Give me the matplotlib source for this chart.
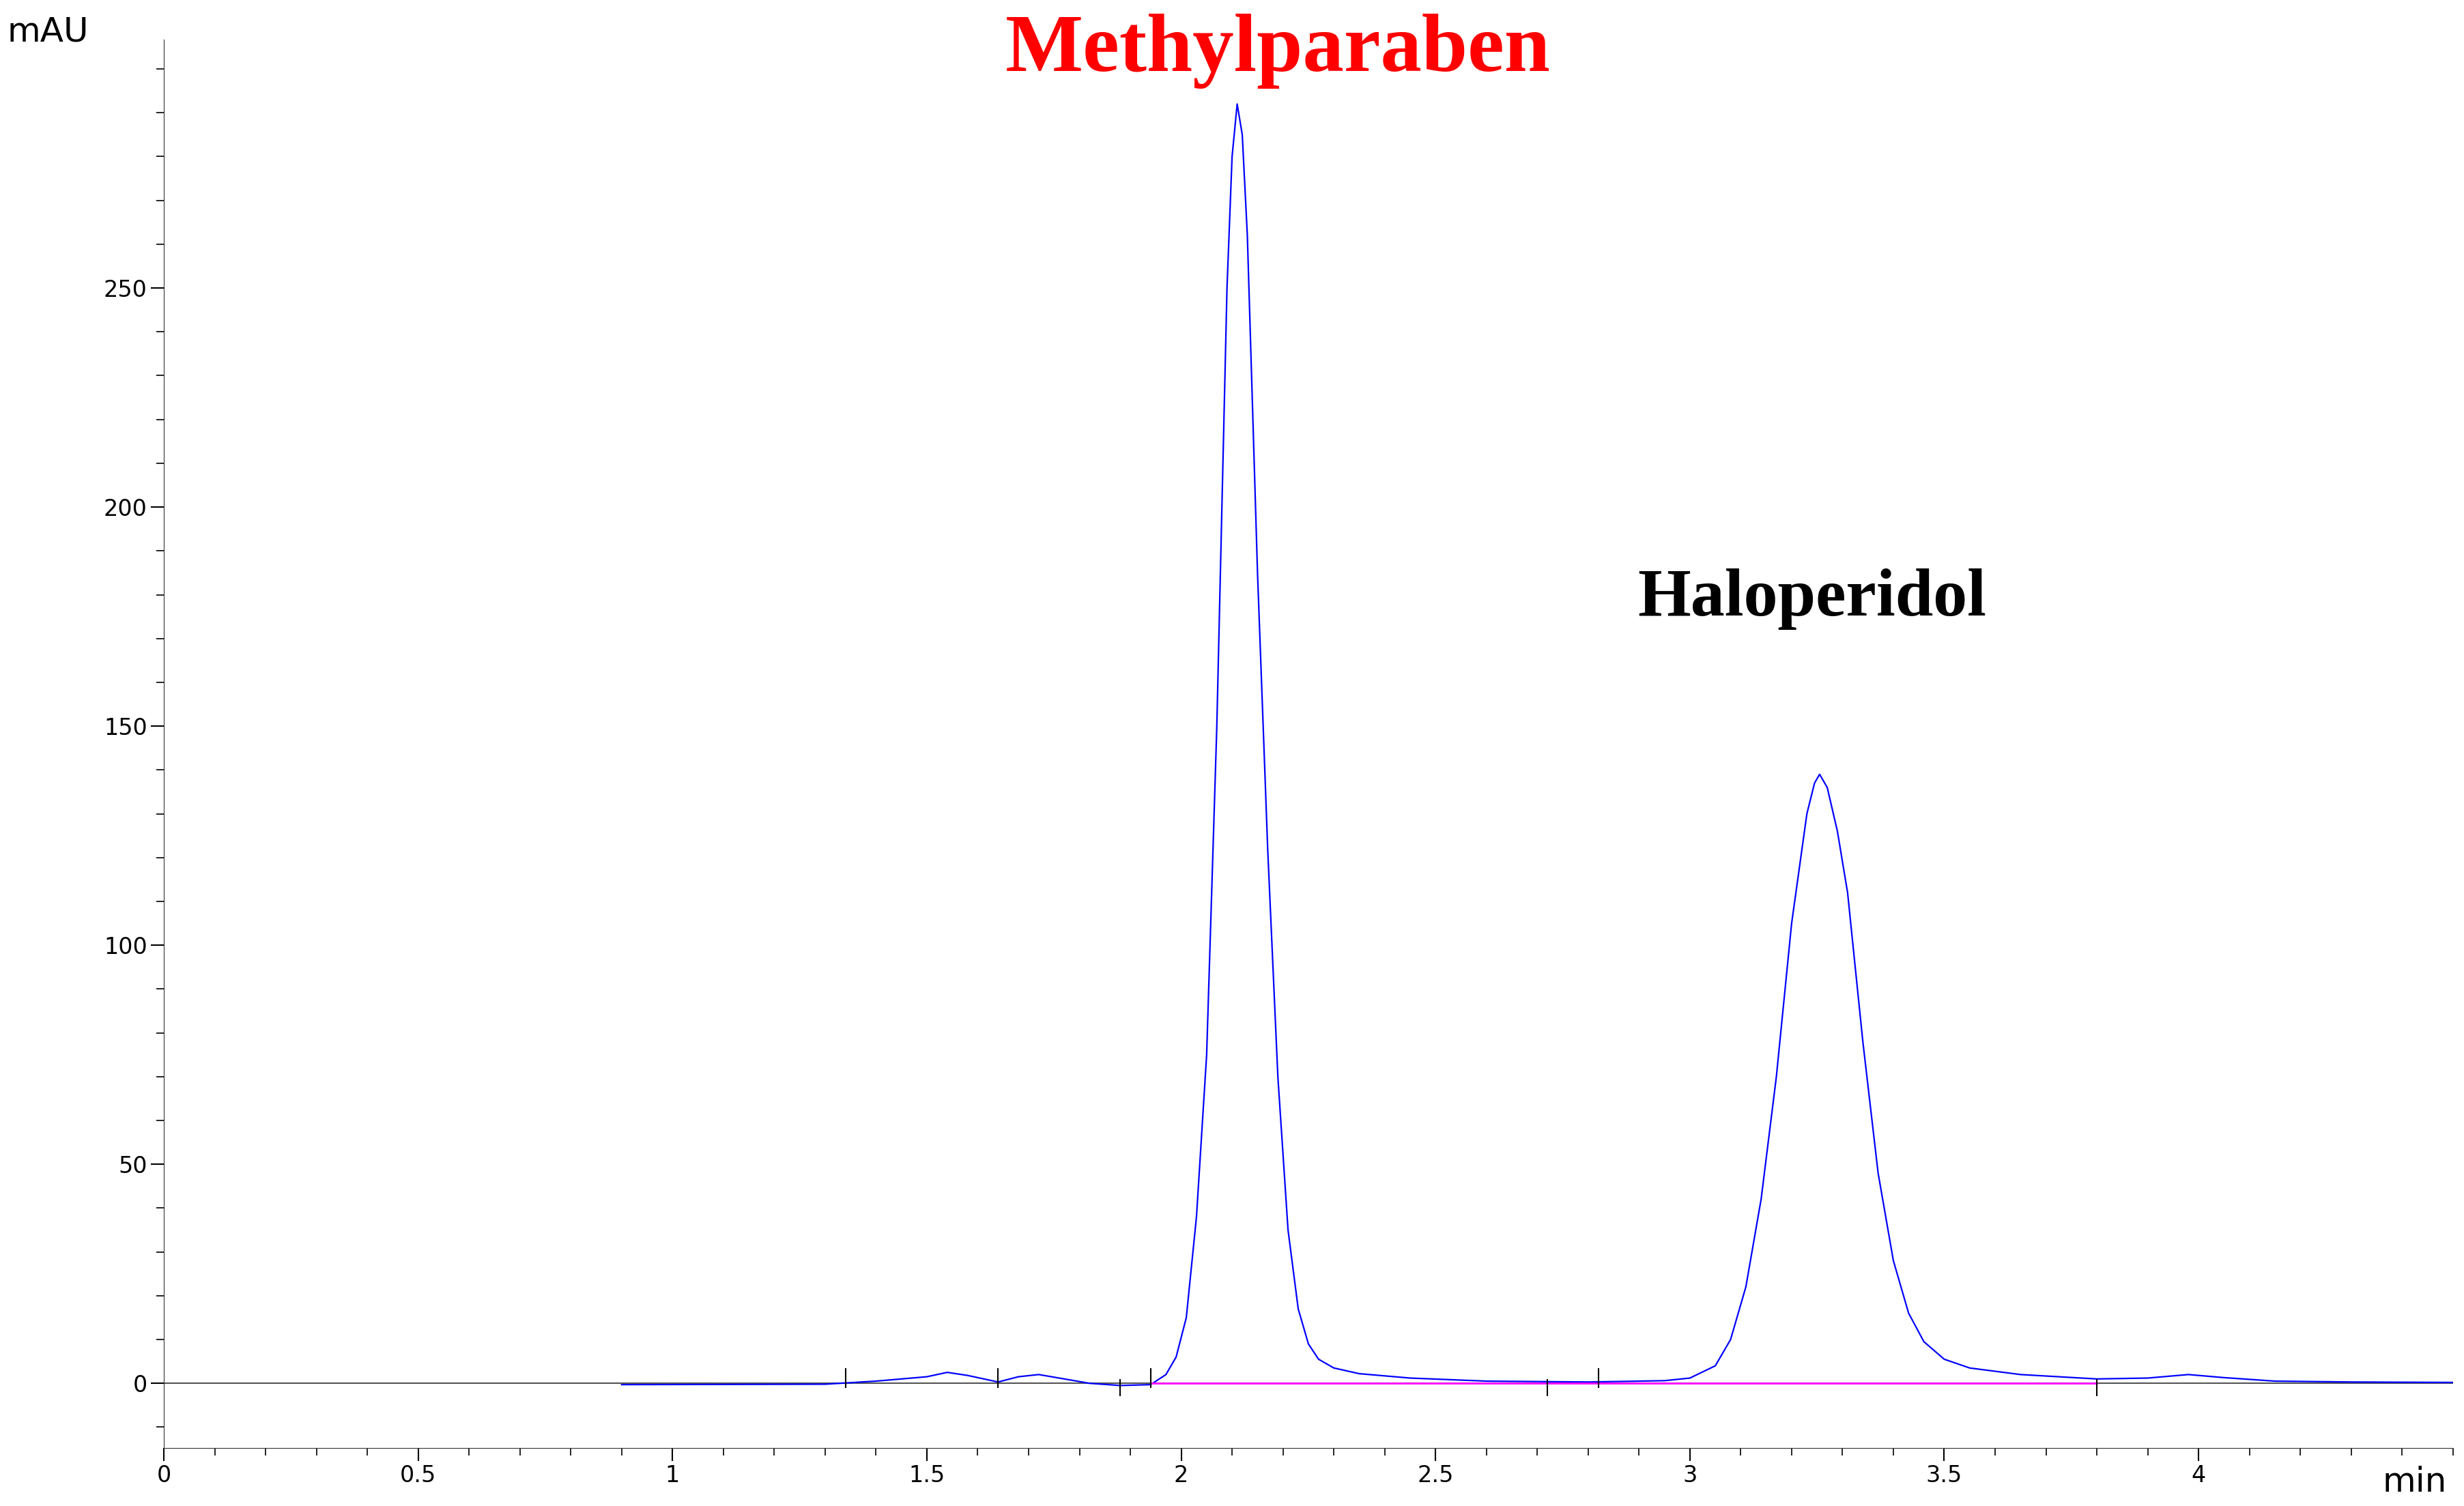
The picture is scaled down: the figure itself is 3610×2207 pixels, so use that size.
import matplotlib
matplotlib.use("Agg")
import matplotlib.pyplot as plt
from matplotlib.ticker import MultipleLocator

time = [0.9, 1.3, 1.4, 1.5, 1.54, 1.58, 1.64, 1.68, 1.72, 1.76, 1.82, 1.88, 1.94, 1.97, 1.99, 2.01, 2.03,
        2.05, 2.07, 2.09, 2.10, 2.11, 2.12, 2.13, 2.15, 2.17, 2.19, 2.21, 2.23, 2.25, 2.27, 2.30, 2.35, 2.45, 2.6,
        2.8, 2.95, 3.0, 3.05, 3.08, 3.11, 3.14, 3.17, 3.20, 3.23, 3.245, 3.255, 3.27, 3.29, 3.31, 3.34, 3.37, 3.40,
        3.43, 3.46, 3.50, 3.55, 3.65, 3.8, 3.9, 3.98, 4.05, 4.15, 4.3, 4.5]
mau = [-0.3, -0.2, 0.5, 1.5, 2.5, 1.8, 0.3, 1.5, 2.0, 1.2, 0.0, -0.5, -0.3, 2, 6, 15, 38,
       75, 150, 250, 280, 292, 285, 262, 185, 122, 70, 35, 17, 9, 5.5, 3.5, 2.2, 1.2, 0.5,
       0.3, 0.6, 1.2, 4, 10, 22, 42, 70, 105, 130, 137, 139, 136, 126, 112, 78, 48, 28,
       16, 9.5, 5.5, 3.5, 2.0, 1.0, 1.2, 2.0, 1.3, 0.5, 0.3, 0.2]
base_x = [[1.94, 2.82], [2.82, 3.8]]
events_up = [1.34, 1.64, 1.94, 2.82]
events_down = [1.88, 2.72, 3.8]

fig = plt.figure(figsize=(36.1, 22.07), dpi=100)
ax = fig.add_axes([0.0665, 0.0387, 0.929, 0.935])
ax.set_xlim(0, 4.5)
ax.set_ylim(-14.7, 306.7)
ax.plot([0, 4.5], [0, 0], color="#555555", lw=1.5)
ax.plot(time, mau, color="blue", lw=1.6)
for bx in base_x:
    ax.plot(bx, [0, 0], color="magenta", lw=2)
ax.vlines(events_up, -1, 3.5, color="black", lw=1.5)
ax.vlines(events_down, -3, 1, color="black", lw=1.5)

for s in ["top", "right"]:
    ax.spines[s].set_visible(False)
ax.spines["left"].set_color("#333333")
ax.spines["bottom"].set_color("#333333")
ax.xaxis.set_major_locator(MultipleLocator(0.5))
ax.xaxis.set_minor_locator(MultipleLocator(0.1))
ax.yaxis.set_major_locator(MultipleLocator(50))
ax.yaxis.set_minor_locator(MultipleLocator(10))
ax.set_xticks([0, 0.5, 1, 1.5, 2, 2.5, 3, 3.5, 4])
ax.set_xticklabels(["0", "0.5", "1", "1.5", "2", "2.5", "3", "3.5", "4"])
ax.set_yticks([0, 50, 100, 150, 200, 250])
ax.tick_params(which="major", length=14, width=1.5, labelsize=24)
ax.tick_params(which="minor", length=8, width=1.2)

fig.text(0.003, 0.99, "mAU", fontsize=36, va="top", ha="left")
fig.text(0.993, 0.005, "min", fontsize=36, va="bottom", ha="right")
ax.text(2.19, 304, "Methylparaben", color="red", fontsize=87, fontweight="bold",
        family="Liberation Serif", ha="center", va="center")
ax.text(3.24, 179, "Haloperidol", color="black", fontsize=72, fontweight="bold",
        family="Liberation Serif", ha="center", va="center")
fig.savefig("out.png", dpi=100)
